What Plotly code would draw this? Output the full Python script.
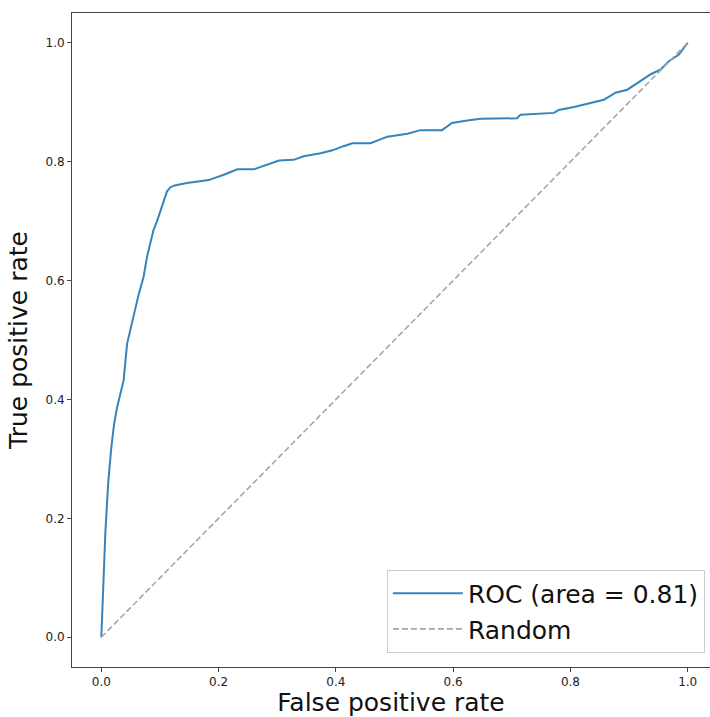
import plotly.graph_objects as go

# ROC curve points (false positive rate, true positive rate)
fpr = [0.0, 0.002, 0.004, 0.007, 0.010, 0.012, 0.017, 0.022, 0.027, 0.034,
       0.038, 0.044, 0.052, 0.058, 0.064, 0.072, 0.078, 0.084, 0.089, 0.095,
       0.101, 0.107, 0.112, 0.118, 0.125, 0.146, 0.169, 0.183, 0.209, 0.232,
       0.260, 0.283, 0.303, 0.328, 0.345, 0.374, 0.394, 0.413, 0.428, 0.459,
       0.476, 0.488, 0.522, 0.544, 0.581, 0.598, 0.624, 0.647, 0.709, 0.715,
       0.772, 0.780, 0.806, 0.823, 0.840, 0.857, 0.877, 0.897, 0.923, 0.937,
       0.954, 0.968, 0.985, 1.0]
tpr = [0.0, 0.049, 0.120, 0.179, 0.230, 0.263, 0.319, 0.360, 0.387, 0.415,
       0.432, 0.494, 0.528, 0.550, 0.578, 0.606, 0.640, 0.665, 0.685, 0.700,
       0.719, 0.735, 0.750, 0.757, 0.760, 0.764, 0.767, 0.769, 0.778, 0.787,
       0.787, 0.795, 0.802, 0.803, 0.809, 0.814, 0.819, 0.826, 0.831, 0.831,
       0.838, 0.842, 0.847, 0.853, 0.853, 0.865, 0.869, 0.872, 0.873, 0.879,
       0.882, 0.887, 0.892, 0.896, 0.900, 0.904, 0.916, 0.921, 0.938, 0.947,
       0.955, 0.969, 0.980, 1.0]
auc = 0.81

# Chance diagonal
rand_x = [0.0, 1.0]
rand_y = [0.0, 1.0]

tick_vals = [0.0, 0.2, 0.4, 0.6, 0.8, 1.0]
tick_text = ["0.0", "0.2", "0.4", "0.6", "0.8", "1.0"]

FONT = "DejaVu Sans"

fig = go.Figure()
fig.add_trace(go.Scatter(
    x=fpr, y=tpr, mode="lines",
    name=f"ROC (area = {auc:.2f})",
    line=dict(color="rgba(31,119,180,0.9)", width=2),
))
fig.add_trace(go.Scatter(
    x=rand_x, y=rand_y, mode="lines",
    name="Random",
    line=dict(color="#a6a6a6", width=1.6, dash="6px,3px"),
))

axis_common = dict(
    showgrid=False, zeroline=False,
    showline=True, linecolor="#444", linewidth=1,
    ticks="outside", ticklen=4, tickwidth=1, tickcolor="#444",
    tickvals=tick_vals, ticktext=tick_text,
    tickfont=dict(family=FONT, size=12, color="#222"),
    automargin=False,
)

fig.update_layout(
    width=710, height=717,
    margin=dict(l=72, r=0, t=13, b=50),
    paper_bgcolor="white", plot_bgcolor="white",
    font=dict(family=FONT),
    showlegend=True,
    legend=dict(
        x=0.992, y=0.022, xanchor="right", yanchor="bottom",
        bgcolor="rgba(255,255,255,0.85)", bordercolor="#cccccc", borderwidth=1,
        font=dict(family=FONT, size=25, color="#111"),
        tracegroupgap=0, itemwidth=70,
    ),
    xaxis=dict(
        axis_common, range=[-0.05, 1.038], mirror=True,
        title=dict(text="False positive rate",
                   font=dict(family=FONT, size=25, color="#111"), standoff=6),
    ),
    yaxis=dict(
        axis_common, range=[-0.05, 1.05], mirror=False,
        title=dict(text="True positive rate",
                   font=dict(family=FONT, size=25, color="#111"), standoff=10),
    ),
)

fig.write_html("out.html")
